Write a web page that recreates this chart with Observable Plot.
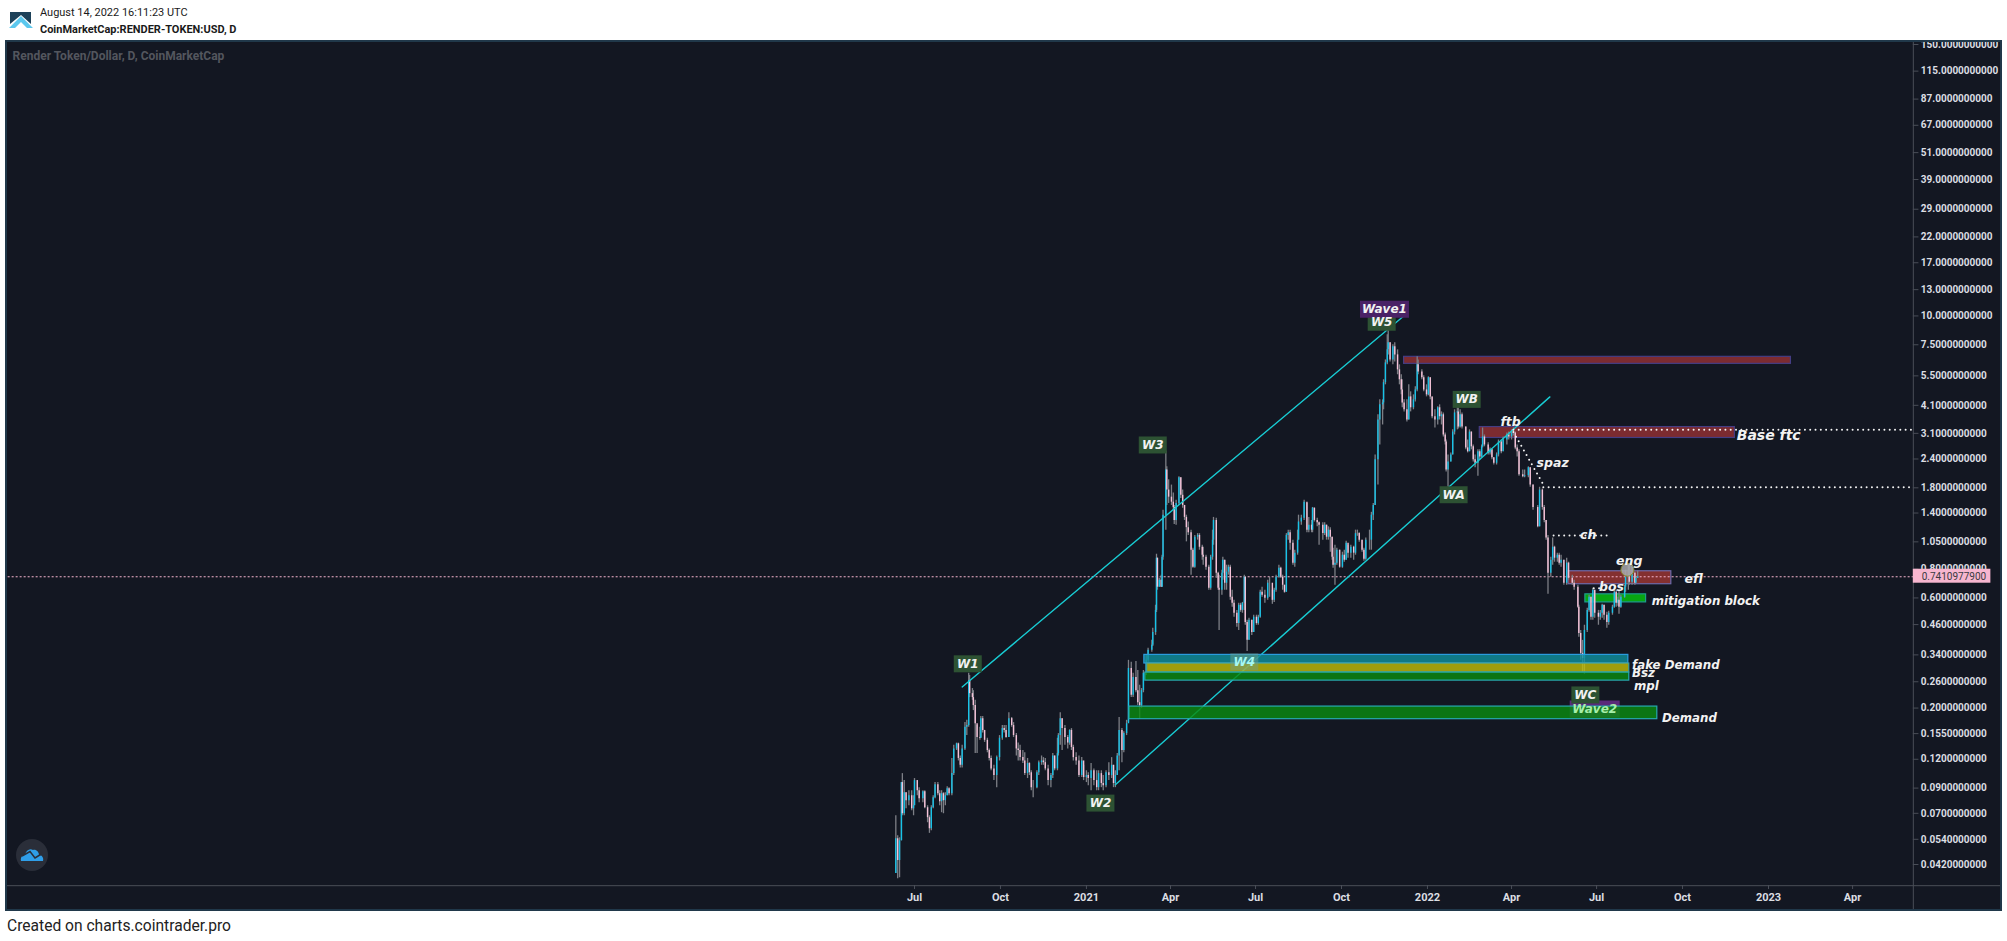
<!DOCTYPE html>
<html><head><meta charset="utf-8">
<script src="https://cdn.jsdelivr.net/npm/d3@7"></script>
<script src="https://cdn.jsdelivr.net/npm/@observablehq/plot@0.6"></script>
<style>
html,body{margin:0;padding:0;background:#fff;}
body{width:2007px;height:941px;overflow:hidden;position:relative;font-family:Roboto,sans-serif;}
#head{position:absolute;left:0;top:0;width:2007px;height:40px;color:#1a1a1a;}
#head div{position:absolute;left:40px;white-space:nowrap;transform:scaleX(.93);transform-origin:left center;}
#panel{position:absolute;left:5px;top:40px;width:1993px;height:867px;border:2px solid #20384a;background:#131722;}
#panel svg{display:block;}
#foot{position:absolute;left:7px;top:917px;font-size:15.6px;color:#222;white-space:nowrap;}
</style></head><body>
<div id="head">
<svg style="position:absolute;left:8px;top:10px" width="26" height="20" viewBox="0 0 26 20"><path d="M2 2H23V14L13 5L2 14Z" fill="#1d4159"/><path d="M1 18L13 6L25 18H19L13 12L7 18Z" fill="#5cc8ee"/></svg>
<div style="top:5px;font-size:11.8px;">August 14, 2022 16:11:23 UTC</div>
<div style="top:22px;font-size:11.8px;font-weight:700;">CoinMarketCap:RENDER-TOKEN:USD, D</div>
</div>
<div id="panel"></div>
<svg style="position:absolute;left:15px;top:838px" width="34" height="34" viewBox="0 0 34 34"><circle cx="17" cy="17" r="16" fill="#2a2e39"/><path d="M6 23C5 19 8 17 10 17C11 12 15 10 18 12C21 11 24 14 24 17C27 17 29 20 28 23Z" fill="#2f9ee8"/><path d="M7 18L15 13.5L20 20L28 15" fill="none" stroke="#2a2e39" stroke-width="1.5"/></svg>
<div id="foot">Created on charts.cointrader.pro</div>
<script>
const seriesTitle = "Render Token/Dollar, D, CoinMarketCap";
const lastPrice = 0.74109779;
const firstOpen = 0.0384;
const startDate = new Date(Date.UTC(2020, 6, 1));

const yTicks = [150,115,87,67,51,39,29,22,17,13,10,7.5,5.5,4.1,3.1,2.4,1.8,1.4,1.05,0.8,0.6,0.46,0.34,0.26,0.2,0.155,0.12,0.09,0.07,0.054,0.042];
const xTickDates = ["2020-07-01","2020-10-01","2021-01-01","2021-04-01","2021-07-01","2021-10-01","2022-01-01","2022-04-01","2022-07-01","2022-10-01","2023-01-01","2023-04-01"];
const xTickLabels = ["Jul","Oct","2021","Apr","Jul","Oct","2022","Apr","Jul","Oct","2023","Apr"];

// Days since 2020-07-01 of each sampled candle
const candleDays = [-20,-18,-16,-14,-13,-11,-9,-6,-3,-1,0,3,5,9,11,14,16,18,20,22,25,27,29,31,33,35,37,40,42,45,47,49,51,54,56,58,59,62,63,65,67,70,71,73,75,78,80,82,85,88,91,94,96,98,101,104,106,109,111,113,116,118,121,123,125,127,131,133,136,138,140,143,146,148,150,153,154,156,158,161,164,166,168,170,173,176,179,181,184,186,189,192,195,197,200,202,205,208,211,213,215,217,219,222,224,227,229,232,234,237,239,241,243,245,248,250,254,255,258,259,260,262,264,265,266,269,270,272,275,277,278,280,283,285,287,289,291,293,296,298,300,303,305,308,309,312,315,317,319,320,323,325,326,329,330,332,334,336,338,340,342,345,347,349,351,353,354,356,358,361,363,366,368,370,372,375,378,380,383,385,387,390,392,394,396,398,400,402,405,407,410,411,414,417,420,422,425,426,428,431,433,437,439,441,443,445,447,448,450,452,455,458,460,462,464,467,470,472,474,476,479,481,483,487,489,491,493,496,498,501,502,504,506,507,509,512,514,517,519,521,522,524,527,529,531,534,536,538,539,543,545,548,550,552,554,557,560,562,564,566,568,569,571,574,576,578,581,582,584,586,590,592,594,596,598,600,603,605,607,608,610,614,616,618,620,623,625,628,630,634,636,639,641,643,645,647,651,653,657,659,662,667,669,672,674,676,678,681,683,685,688,690,692,695,698,700,704,706,710,711,713,715,717,720,722,724,726,728,732,734,736,738,741,743,747,749,751,753,754,756,760,761,764,765,768,771,772,774];
const highs = [.0683,.0559,.0548,.0951,.104,.097,.086,.0877,.0877,.0834,.099,.097,.0904,.0877,.0877,.0755,.0683,.0755,.0834,.0951,.0951,.0877,.0877,.086,.086,.0913,.0904,.121,.138,.141,.141,.124,.138,.173,.177,.283,.277,.243,.238,.216,.168,.165,.184,.184,.16,.148,.133,.124,.113,.124,.152,.168,.168,.168,.191,.182,.173,.155,.141,.138,.131,.128,.121,.116,.107,.097,.107,.118,.124,.122,.121,.113,.104,.127,.124,.148,.155,.191,.18,.168,.152,.161,.163,.138,.128,.124,.122,.113,.107,.105,.115,.109,.107,.107,.107,.102,.107,.116,.122,.113,.107,.127,.182,.163,.158,.177,.322,.316,.283,.318,.291,.251,.243,.291,.338,.363,.393,.443,.558,.928,.892,.73,.753,.919,1.44,2.6,2.22,1.95,1.85,1.71,1.51,1.59,2.01,1.99,1.76,1.51,1.37,1.28,1.18,.985,1.12,1.14,1.14,1.015,.995,.919,.832,.919,1.18,1.34,1.33,.776,.753,.791,.901,.874,.832,.832,.832,.648,.586,.53,.569,.569,.574,.753,.738,.48,.49,.48,.505,.505,.505,.648,.668,.648,.716,.738,.648,.661,.753,.832,.815,.753,.681,1.14,1.18,1.18,1.068,.966,1.18,1.37,1.37,1.59,1.54,1.34,1.3,1.48,1.47,1.33,1.28,1.27,1.27,1.24,1.22,1.21,1.1,.985,1.015,.985,.966,.947,.966,1.057,1.015,1.015,1.005,1.18,1.18,1.15,1.068,.985,1.09,1.18,1.41,1.54,2.5,3.73,4.33,4.33,5.29,6.45,8.28,8.71,7.65,7.5,7.65,7.13,6.14,5.56,5.29,4.33,4.33,5.03,4.69,4.55,4.93,6.65,6.45,5.84,5.51,5.03,5.45,5.4,4.46,3.92,4.04,4.12,3.84,3.8,3.11,2.9,2.5,2.55,3.21,3.92,4.12,4,3.92,3.8,3.3,2.9,3.21,3.14,2.76,2.5,2.63,2.63,2.76,3.27,3.05,2.82,2.68,2.65,2.43,2.55,2.9,2.9,2.99,3.11,3.14,3.21,3.27,3.14,2.76,2.63,2.15,2.15,2.22,2.2,1.85,1.51,1.81,1.78,1.51,1.3,1.12,.901,1.09,1.005,.938,.938,.919,.874,.892,.857,.753,.716,.681,.558,.434,.393,.457,.541,.616,.604,.661,.648,.53,.53,.563,.558,.52,.525,.558,.648,.648,.604,.648,.616,.681,.791,.832,.832,.832,.776,.745,.785];
const lows = [.0384,.0364,.0368,.0532,.0683,.0683,.0732,.0755,.0718,.0683,.0755,.0834,.0778,.0778,.0732,.0637,.0573,.0588,.0732,.081,.0834,.0755,.0704,.0697,.0755,.0834,.0834,.0834,.102,.131,.118,.11,.11,.131,.152,.165,.222,.216,.195,.127,.127,.145,.148,.156,.142,.128,.118,.107,.097,.0904,.118,.145,.156,.148,.149,.165,.149,.124,.118,.118,.115,.102,.099,.102,.0877,.0818,.0895,.102,.113,.113,.107,.0922,.0904,.099,.107,.107,.124,.138,.131,.138,.133,.138,.131,.118,.113,.1,.1,.097,.0951,.0922,.0877,.0922,.0877,.0877,.0904,.0877,.0904,.097,.099,.0904,.0904,.102,.107,.116,.128,.152,.173,.222,.222,.233,.205,.18,.199,.233,.277,.316,.349,.37,.413,.519,.648,.668,.668,.668,.874,1.18,1.51,1.54,1.51,1.44,1.25,1.24,1.51,1.62,1.47,1.3,1.05,1.12,.753,.807,.807,1.068,.966,.874,.832,.791,.648,.648,.874,1.015,.73,.648,.434,.616,.716,.648,.648,.753,.586,.547,.495,.448,.434,.52,.515,.53,.457,.352,.393,.413,.425,.457,.457,.49,.604,.569,.586,.604,.563,.574,.635,.73,.73,.648,.629,.635,1.068,.966,.832,.815,.919,1.068,1.24,1.3,1.15,1.15,1.15,1.15,1.28,1.22,1.015,1.068,1.12,1.068,1.068,.947,.874,.807,.681,.832,.807,.807,.857,.874,.892,.892,.874,.919,1.11,1.047,.947,.865,.874,.966,.966,1.3,1.51,1.85,2.76,3.37,3.92,5.03,6.14,6.78,6.32,6.14,6.32,5.56,5.03,4.55,4,3.84,3.47,3.54,3.84,3.92,4.24,4.69,5.56,5.29,4.69,4.46,4.51,4.33,3.59,3.27,3.37,3.54,3.37,2.99,2.76,2.11,1.81,2.33,2.5,3.05,3.21,3.24,3.27,3.24,2.63,2.55,2.58,2.63,2.33,2.2,2.02,2.38,2.43,2.68,2.71,2.5,2.5,2.38,2.26,2.26,2.45,2.53,2.58,2.76,2.9,2.9,3.02,2.63,2.45,2.02,1.99,1.99,1.99,1.81,1.44,1.21,1.22,1.44,1.27,1.068,.623,.738,.832,.857,.857,.832,.815,.681,.681,.716,.681,.648,.541,.405,.322,.285,.28,.425,.52,.48,.48,.49,.457,.48,.49,.48,.443,.457,.505,.541,.547,.552,.51,.541,.598,.635,.648,.681,.681,.681,.695,.73];
const closes = [.0543,.0437,.0532,.0951,.0697,.086,.0794,.0834,.0732,.0755,.097,.0877,.081,.0868,.074,.067,.06,.074,.0818,.0931,.0851,.0786,.0851,.0794,.0834,.0895,.0851,.104,.133,.14,.121,.113,.133,.165,.168,.263,.231,.222,.205,.171,.149,.148,.18,.16,.145,.131,.121,.109,.102,.122,.148,.163,.16,.149,.18,.168,.152,.133,.131,.122,.118,.104,.115,.105,.0904,.0904,.105,.116,.118,.116,.109,.097,.102,.124,.109,.127,.152,.18,.163,.149,.141,.16,.135,.122,.118,.102,.118,.1,.102,.099,.107,.097,.0904,.104,.0942,.0922,.105,.102,.113,.0942,.102,.124,.16,.131,.155,.171,.297,.227,.271,.238,.211,.205,.238,.283,.322,.356,.374,.425,.53,.892,.668,.716,.668,.901,1.37,2.15,1.76,1.64,1.56,1.48,1.3,1.54,1.99,1.67,1.51,1.34,1.21,1.15,.966,.815,1.1,1.12,.995,.919,.901,.815,.661,.901,1.068,1.3,.768,.661,.648,.768,.874,.695,.776,.815,.604,.569,.515,.465,.558,.53,.569,.738,.47,.393,.48,.425,.495,.465,.495,.635,.616,.598,.695,.695,.586,.648,.738,.807,.738,.681,.635,1.12,1.15,1.036,.849,.938,1.068,1.28,1.33,1.56,1.18,1.24,1.18,1.47,1.3,1.27,1.24,1.14,1.24,1.1,1.18,1.1,.901,.832,.849,.966,.815,.919,.874,1.036,.938,.995,.938,1.14,1.14,1.068,.966,.883,1.068,1.068,1.37,1.51,2.38,3.54,4.12,4.2,5.14,6.26,7.13,7.65,6.45,7.35,6.78,5.84,5.29,4.78,4.2,3.92,3.54,4.46,4,4.33,4.78,6.14,5.72,5.4,4.78,4.55,5.4,4.46,3.66,3.54,4,3.66,3.73,3.05,2.84,2.15,2.33,2.5,3.14,3.8,3.84,3.3,3.73,3.3,2.68,2.58,3.14,2.71,2.38,2.3,2.58,2.45,2.71,2.99,2.76,2.55,2.63,2.43,2.3,2.5,2.84,2.58,2.9,3.05,2.99,3.11,3.11,2.68,2.58,2.05,2.01,2.03,2.2,1.85,1.48,1.22,1.76,1.48,1.3,1.09,.768,.874,.995,.892,.919,.849,.874,.695,.849,.73,.695,.668,.547,.421,.345,.328,.434,.53,.604,.495,.648,.515,.495,.515,.558,.505,.47,.515,.547,.635,.569,.586,.547,.604,.668,.738,.753,.702,.768,.695,.73,.741];

// Zones: name, first day, last day, top price, bottom price
const zoneNames = ["supply","fake Demand","Bsz","mpl","Demand","Base ftc","efl","mitigation block"];
const zoneStartDays = [524,246,249,247,230,605,700,718];
const zoneEndDays = [938,764,765,765,795,878,810,783];
const zoneTops = [6.65,.34,.312,.285,.203,3.30,.783,.622];
const zoneBottoms = [6.20,.312,.285,.263,.179,2.96,.688,.574];
const zoneFills = ["#7c2b30","#0f8f9c","#bdbb08","#0a8a10","#0a8a10","#7c2b30","#843030","#08a512"];
const zoneStrokes = ["#453d84","#2b9ee0","#3fa0a0","#27a9b0","#27a9b0","#453d84","#6f6aaa","#1e9c8c"];

// Channel lines: [day, price] ends
const upperLineDays = [51,523];
const upperLinePrices = [.247,9.95];
const lowerLineDays = [215,680];
const lowerLinePrices = [.0931,4.46];

// Dotted lines
const dottedDays = [[641,1069],[641,672],[673,1069],[684,743],[727,734]];
const dottedPrices = [[3.21,3.21],[3.14,1.89],[1.81,1.81],[1.12,1.12],[.661,.661]];

// Wave tags
const tagNames = ["W1","W3","W5","Wave1","W2","WA","WB","WC"];
const tagDays = [57,255,500,503,199,577,591,718];
const tagPrices = [.311,2.76,9.39,10.7,.0775,1.68,4.35,.228];
const tagFills = ["#2d5233","#2d5233","#2d5233","#4a2266","#2d5233","#2d5233","#2d5233","#2d5233"];
const underTagNames = ["W4","Wave2"];
const underTagDays = [353,728];
const underTagPrices = [.317,.198];
const underTagFills = ["#6fa08a","#5a2a7a"];
const underTagInks = ["#a6f7f2","#a6efaa"];

// Free notes
const noteNames = ["ftb","spaz","ch","eng","efl","bos"];
const noteDays = [638,683,721,765,834,746];
const notePrices = [3.47,2.31,1.12,.865,.723,.667];
const startNoteNames = ["mitigation block","fake Demand","Bsz","mpl","Demand"];
const startNoteDays = [789,768,768,770,800];
const startNotePrices = [.58,.306,.283,.248,.181];

const day = d => d3.utcDay.offset(startDate, d);
const AXIS_DAY = 1069;
const candles = candleDays.map((d,i)=>({date:day(d),high:highs[i],low:lows[i],close:closes[i],open:i?closes[i-1]:firstOpen}));
const zones = zoneNames.map((n,i)=>({name:n,x1:day(zoneStartDays[i]),x2:day(zoneEndDays[i]),y1:zoneTops[i],y2:zoneBottoms[i],fill:zoneFills[i],stroke:zoneStrokes[i]}));
const upperZones = zones.filter(z=>["supply","Base ftc","efl","mitigation block"].includes(z.name));
const lowerZones = zones.filter(z=>!upperZones.includes(z));
const lineOf = (ds,ps)=>ds.map((d,i)=>({x:day(d),y:ps[i]}));
const tags = tagNames.map((n,i)=>({name:n,x:day(tagDays[i]),y:tagPrices[i],fill:tagFills[i]}));
const underTags = underTagNames.map((n,i)=>({name:n,x:day(underTagDays[i]),y:underTagPrices[i],fill:underTagFills[i],ink:underTagInks[i]}));
const notes = noteNames.map((n,i)=>({name:n,x:day(noteDays[i]),y:notePrices[i]}));
const startNotes = startNoteNames.map((n,i)=>({name:n,x:day(startNoteDays[i]),y:startNotePrices[i]}));
const tagSymbol = w => ({draw(c){c.moveTo(-w/2,-8.5);c.lineTo(w/2,-8.5);c.lineTo(w/2,8.5);c.lineTo(-w/2,8.5);c.closePath();}});
const tickDates = xTickDates.map(s=>new Date(s+"T00:00:00Z"));
const tickName = new Map(tickDates.map((d,i)=>[+d,xTickLabels[i]]));
const labelFont = {fontFamily:"DejaVu Sans",fontWeight:"bold",fontStyle:"italic",fill:"#f2f2f2"};
const zoneRect = (data,extra)=>Plot.rect(data,{x1:"x1",x2:"x2",y1:"y1",y2:"y2",fill:d=>d.fill,stroke:d=>d.stroke,strokeWidth:1.2,...extra});
const tagDots = (data,w,extra)=>Plot.dot(data,{x:"x",y:"y",symbol:tagSymbol(w),fill:d=>d.fill,stroke:"none",r:5,...extra});
const axisColor = "#4a4e58";

const chart = Plot.plot({
  width:1993,height:867,
  marginLeft:0,marginTop:0,marginRight:87,marginBottom:24,
  style:{background:"#131722",fontFamily:"Roboto",fontSize:"10px",overflow:"hidden",color:"#d8dae0"},
  x:{type:"utc",domain:[new Date("2020-07-01T00:00:00Z"),new Date("2023-01-01T00:00:00Z")],range:[907,1761],label:null},
  y:{type:"log",domain:[.042,150],range:[822,2],label:null,axis:null},
  marks:[
    Plot.text([seriesTitle],{frameAnchor:"top-left",dx:5,dy:9,textAnchor:"start",fontSize:12,fontWeight:"bold",fill:"#53565e",lineAnchor:"top"}),
    Plot.ruleY([.034],{x1:day(-1000),x2:day(1180),stroke:axisColor,strokeWidth:1}),
    Plot.ruleX([day(AXIS_DAY)],{y1:.02,y2:220,stroke:axisColor,strokeWidth:1}),
    Plot.axisX(tickDates,{anchor:"bottom",tickSize:4,tickPadding:4,stroke:axisColor,fill:"#dcdee3",fontSize:11,fontWeight:"bold",tickFormat:d=>tickName.get(+d),label:null}),
    Plot.ruleY(yTicks,{y:d=>d,x1:day(AXIS_DAY),x2:day(AXIS_DAY+6),stroke:axisColor}),
    Plot.text(yTicks,{y:d=>d,x:day(AXIS_DAY+8),text:d=>d.toFixed(10),textAnchor:"start",fontSize:10,fontWeight:"bold",fill:"#dcdee3"}),
    zoneRect(upperZones),
    Plot.ruleY([lastPrice],{x1:day(-1000),x2:day(AXIS_DAY),stroke:"#f7b6cf",strokeWidth:1,strokeDasharray:"2 2"}),
    Plot.ruleX(candles,{x:"date",y1:"low",y2:"high",stroke:"#7d7f86",strokeWidth:1.3}),
    Plot.ruleX(candles,{x:"date",y1:"open",y2:"close",stroke:d=>d.close>=d.open?"#17c3e8":"#f5c2d8",strokeWidth:1.4}),
    Plot.dot([{x:day(763),y:.795}],{x:"x",y:"y",r:6.5,fill:"#a9a9ad",fillOpacity:.85,stroke:"#8e8d32",strokeWidth:1}),
    Plot.line(lineOf(upperLineDays,upperLinePrices),{x:"x",y:"y",stroke:"#18ccd3",strokeWidth:1.4}),
    Plot.line(lineOf(lowerLineDays,lowerLinePrices),{x:"x",y:"y",stroke:"#18ccd3",strokeWidth:1.4}),
    tagDots(underTags.filter(t=>t.name==="Wave2"),50),
    zoneRect(lowerZones,{fillOpacity:.82}),
    tagDots(underTags.filter(t=>t.name==="W4"),28,{fillOpacity:.5}),
    Plot.text(underTags,{x:"x",y:"y",text:"name",fontSize:12,...labelFont,fill:d=>d.ink}),
    ...dottedDays.map((ds,i)=>Plot.line(lineOf(ds,dottedPrices[i]),{x:"x",y:"y",stroke:"#f4f4f4",strokeWidth:2,strokeLinecap:"round",strokeDasharray:"0 5.3"})),
    tagDots(tags.filter(t=>t.name!=="Wave1"),28),
    tagDots(tags.filter(t=>t.name==="Wave1"),49),
    Plot.text(tags,{x:"x",y:"y",text:"name",fontSize:12,...labelFont}),
    Plot.text(notes,{x:"x",y:"y",text:"name",fontSize:12.5,...labelFont}),
    Plot.text(startNotes,{x:"x",y:"y",text:"name",textAnchor:"start",fontSize:11.8,...labelFont}),
    Plot.text([{x:day(880),y:3.02,t:"Base ftc"}],{x:"x",y:"y",text:"t",textAnchor:"start",fontSize:14,...labelFont}),
    Plot.rect([{x1:day(AXIS_DAY),x2:day(1152),y1:.799,y2:.695}],{x1:"x1",x2:"x2",y1:"y1",y2:"y2",fill:"#f7b6cf"}),
    Plot.text([{x:day(AXIS_DAY+9),y:lastPrice,t:lastPrice.toFixed(10)}],{x:"x",y:"y",text:"t",textAnchor:"start",fontSize:10,fill:"#3a3a40"})
  ]
});
document.getElementById("panel").appendChild(chart);
</script>
</body></html>
